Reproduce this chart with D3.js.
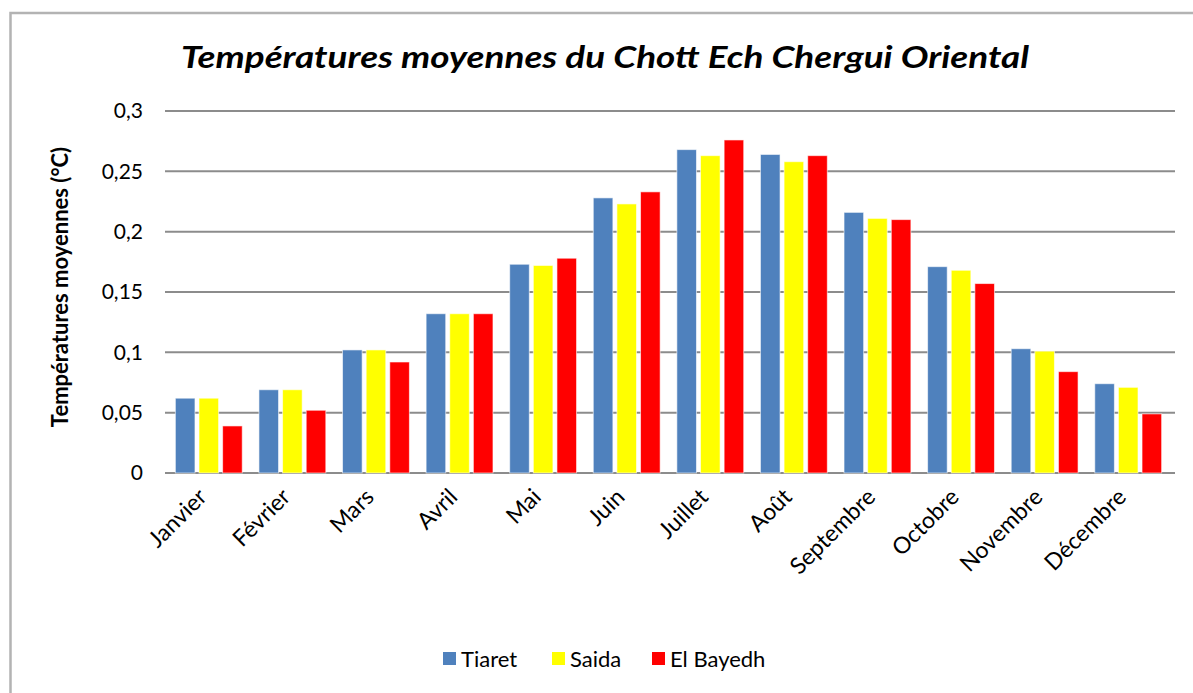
<!DOCTYPE html>
<html>
<head>
<meta charset="utf-8">
<script src="https://cdn.jsdelivr.net/npm/d3@7"></script>
<style>
  body { margin: 0; background: #fff; }
  text { font-family: Lato, "Open Sans", sans-serif; }
</style>
</head>
<body>
<div id="chart"></div>
<script>
// data
const months = ["Janvier", "Février", "Mars", "Avril", "Mai", "Juin", "Juillet", "Août", "Septembre", "Octobre", "Novembre", "Décembre"];
const stations = ["Tiaret", "Saida", "El Bayedh"];
const tiaret = [0.062, 0.069, 0.102, 0.132, 0.173, 0.228, 0.268, 0.264, 0.216, 0.171, 0.103, 0.074];
const saida = [0.062, 0.069, 0.102, 0.132, 0.172, 0.223, 0.263, 0.258, 0.211, 0.168, 0.101, 0.071];
const elBayedh = [0.039, 0.052, 0.092, 0.132, 0.178, 0.233, 0.276, 0.263, 0.210, 0.157, 0.084, 0.049];
const yTicks = [0, 0.05, 0.1, 0.15, 0.2, 0.25, 0.3];
const colours = ["#4F81BD", "#FFFF00", "#FF0000"];

const W = 1193, H = 693;
const margin = { left: 167, right: 23, top: 111, bottom: 220 };
const w = W - margin.left - margin.right;
const h = H - margin.top - margin.bottom;

const svg = d3.select("#chart").append("svg")
  .attr("width", W)
  .attr("height", H);

// outer chart border (runs off the right and bottom of the picture)
svg.append("rect")
  .attr("x", 10.5).attr("y", 13)
  .attr("width", W).attr("height", H)
  .attr("fill", "none")
  .attr("stroke", "#b3b3b3")
  .attr("stroke-width", 2.5);

// title
svg.append("text")
  .attr("x", 605).attr("y", 68)
  .attr("text-anchor", "middle")
  .attr("textLength", 848)
  .attr("lengthAdjust", "spacingAndGlyphs")
  .style("font-size", "30px")
  .style("font-weight", "bold")
  .style("font-style", "italic")
  .text("Températures moyennes du Chott Ech Chergui Oriental");

const g = svg.append("g").attr("transform", "translate(" + margin.left + "," + margin.top + ")");

const table = months.map((m, i) => ({ month: m, values: [tiaret[i], saida[i], elBayedh[i]] }));

const x0 = d3.scaleBand().domain(months).range([0, w]).paddingInner(0.2).paddingOuter(0.1);
const x1 = d3.scaleBand().domain(stations).range([0, x0.bandwidth()]).paddingInner(0.17);
const y = d3.scaleLinear().domain([0, 0.3]).range([h, 0]);

// gridlines
g.append("g")
  .selectAll("line")
  .data(yTicks)
  .enter()
  .append("line")
  .attr("x1", -2).attr("x2", w + 5)
  .attr("y1", d => y(d)).attr("y2", d => y(d))
  .attr("stroke", "#8c8c8c")
  .attr("stroke-width", 2);

// y tick labels
const fmt = d => String(d).replace(".", ",");
g.append("g")
  .selectAll("text")
  .data(yTicks)
  .enter()
  .append("text")
  .attr("x", -24)
  .attr("y", d => y(d))
  .attr("dy", "0.35em")
  .attr("text-anchor", "end")
  .style("font-size", "21px")
  .style("fill", "#000")
  .text(fmt);

// bars
const groups = g.selectAll(".month")
  .data(table)
  .enter()
  .append("g")
  .attr("class", "month")
  .attr("transform", d => "translate(" + x0(d.month) + ",0)");

groups.selectAll("rect")
  .data(d => d.values.map((v, i) => ({ key: stations[i], value: v, c: colours[i] })))
  .enter()
  .append("rect")
  .attr("x", d => x1(d.key))
  .attr("y", d => y(d.value))
  .attr("width", x1.bandwidth())
  .attr("height", d => h - y(d.value))
  .attr("fill", d => d.c)
  .attr("stroke", "rgba(255,255,255,0.6)")
  .attr("stroke-width", 1);

// month labels, rotated
g.append("g")
  .selectAll("text")
  .data(months)
  .enter()
  .append("text")
  .attr("transform", d => "translate(" + (x0(d) + x0.bandwidth() / 2 - 12) + "," + (h + 14) + ") rotate(-45)")
  .attr("text-anchor", "end")
  .attr("dy", "0.7em")
  .style("font-size", "23px")
  .text(d => d);

// y axis title
svg.append("text")
  .attr("transform", "translate(60,287) rotate(-90)")
  .attr("text-anchor", "middle")
  .attr("dy", "0.35em")
  .style("font-size", "22px")
  .style("font-weight", "bold")
  .text("Températures moyennes (°C)");

// legend
const legendX = [443, 552, 652];
const legend = svg.append("g")
  .selectAll("g")
  .data(stations)
  .enter()
  .append("g")
  .attr("transform", (d, i) => "translate(" + legendX[i] + ",652)");
legend.append("rect")
  .attr("width", 13).attr("height", 13)
  .attr("fill", (d, i) => colours[i]);
legend.append("text")
  .attr("x", 18).attr("y", 7)
  .attr("dy", "0.35em")
  .style("font-size", "22px")
  .text(d => d);
</script>
</body>
</html>
